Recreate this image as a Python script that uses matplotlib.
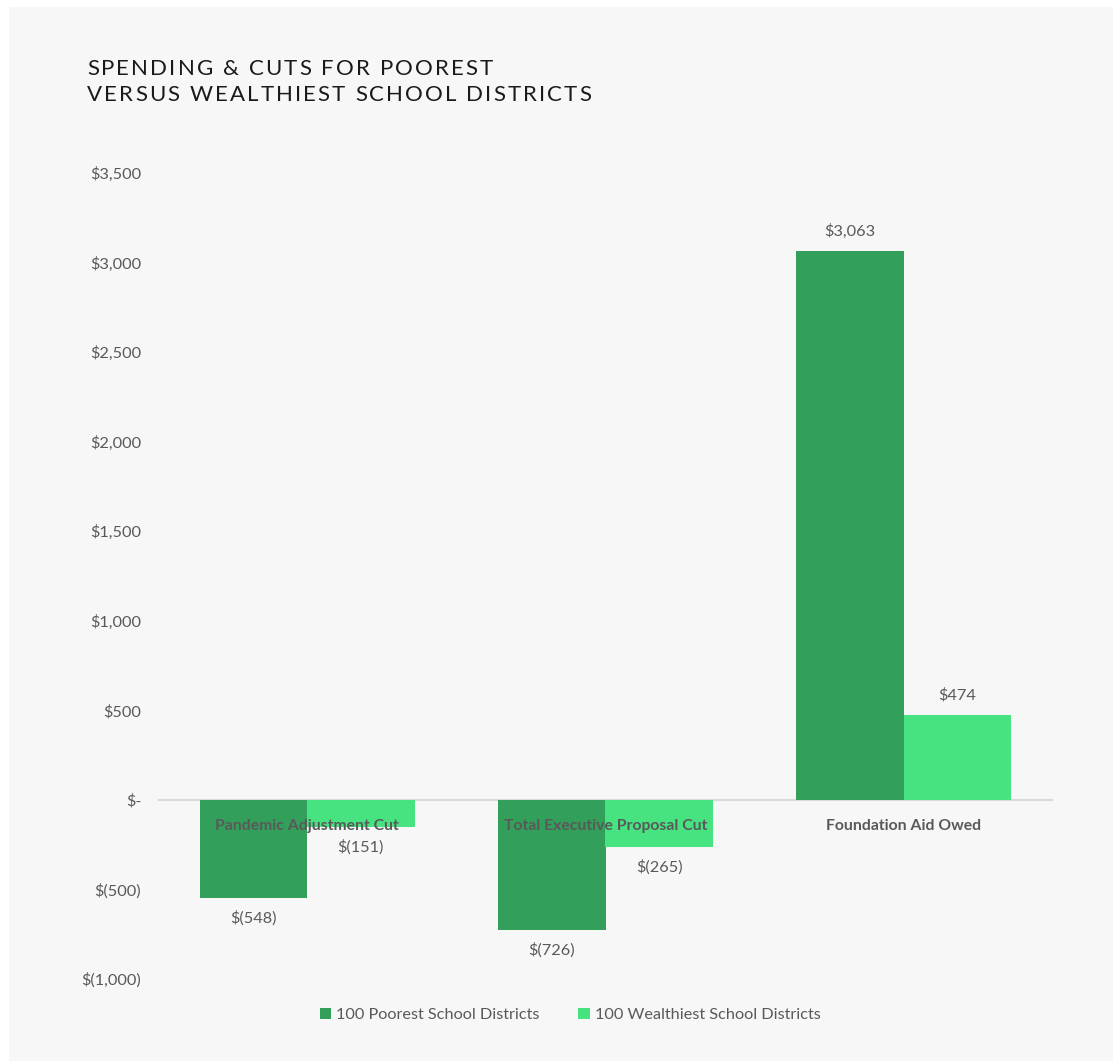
import matplotlib.pyplot as plt
import numpy as np
from matplotlib.patches import Rectangle

# data
categories = ["Pandemic Adjustment Cut", "Total Executive Proposal Cut", "Foundation Aid Owed"]
poorest = [-548, -726, 3063]
wealthiest = [-151, -265, 474]
series_names = ["100 Poorest School Districts", "100 Wealthiest School Districts"]
yticks = [-1000, -500, 0, 500, 1000, 1500, 2000, 2500, 3000, 3500]
title_lines = ["SPENDING & CUTS FOR POOREST", "VERSUS WEALTHIEST SCHOOL DISTRICTS"]

dark = "#32a05b"
light = "#46e380"
txt = "#595959"
plt.rcParams['font.family'] = ['Lato', 'DejaVu Sans']


def money(v):
    if v == 0:
        return "$-"
    s = "{:,.0f}".format(abs(v))
    return "$(" + s + ")" if v < 0 else "$" + s


W, H = 1117, 1061
fig = plt.figure(figsize=(W / 100, H / 100), dpi=100)
fig.patch.set_facecolor("white")
fig.add_artist(Rectangle((9 / W, 0), (1113 - 9) / W, (H - 7) / H, transform=fig.transFigure,
                         facecolor="#f7f7f7", edgecolor="none", zorder=-10))

ax = fig.add_axes([158 / W, 1 - 979 / H, (1053 - 158) / W, (979 - 173) / H])
ax.set_facecolor("none")

x = np.arange(len(categories))
bw = 0.36
b1 = ax.bar(x - bw / 2, poorest, bw, color=dark, label=series_names[0], zorder=2)
b2 = ax.bar(x + bw / 2, wealthiest, bw, color=light, label=series_names[1], zorder=2)

ax.set_xlim(-0.5, len(categories) - 0.5)
ax.set_ylim(-1000, 3500)
ax.set_yticks(yticks)
ax.set_yticklabels([money(v) for v in yticks], fontsize=11.8, color=txt)
ax.tick_params(axis="y", length=0, pad=12)
ax.set_xticks([])
for s in ax.spines.values():
    s.set_visible(False)
ax.axhline(0, color="#d9d9d9", lw=1.5, zorder=1)

# category labels drawn next to the zero line
for xi, c in zip(x, categories):
    ax.annotate(c, (xi, 0), xytext=(0, -24), textcoords="offset points", ha="center",
                va="bottom", fontsize=11.3, fontweight="bold", color=txt, zorder=5)

for bars in (b1, b2):
    for r in bars:
        v = r.get_height()
        off = 9 if v > 0 else -9
        ax.annotate(money(v), (r.get_x() + r.get_width() / 2, v), xytext=(0, off),
                    textcoords="offset points", ha="center",
                    va="bottom" if v > 0 else "top", fontsize=11.8, color=txt)

# title with letter spacing, placed char by char
renderer = fig.canvas.get_renderer()


def text_w(s, **kw):
    t = fig.text(0, 0, s, **kw)
    w = t.get_window_extent(renderer).width
    t.remove()
    return w


tkw = dict(fontsize=16, color="#1a1a1a")
spacing = 2.1
bar_w = text_w("|", **tkw)
for line, base in zip(title_lines, [75, 101]):
    for i, ch in enumerate(line):
        if ch == " ":
            continue
        off = (text_w(line[:i] + "|", **tkw) - bar_w) if i else 0
        fig.text((87 + off + i * spacing) / W, 1 - base / H, ch, ha="left",
                 va="baseline", **tkw)

leg = fig.legend(loc="center", bbox_to_anchor=(570 / W, 1 - 1015 / H), ncol=2, frameon=False,
                 fontsize=11.7, handlelength=0.7, handleheight=0.7, handletextpad=0.3,
                 columnspacing=2.4)
for t in leg.get_texts():
    t.set_color(txt)

fig.savefig("out.png", dpi=100)
